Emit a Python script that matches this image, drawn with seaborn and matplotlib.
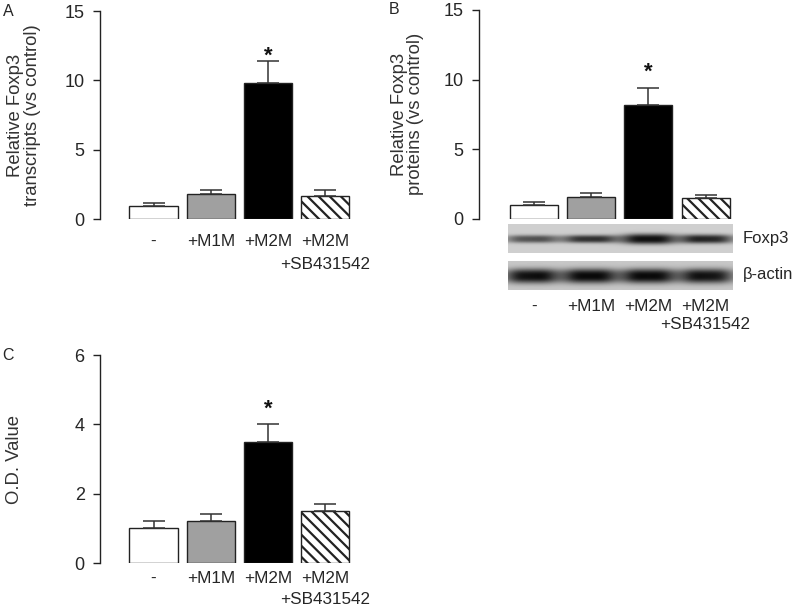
import numpy as np
import pandas as pd
import matplotlib
matplotlib.use('Agg')
import matplotlib.pyplot as plt
import seaborn as sns

# data
groups = ['-', '+M1M', '+M2M', '+M2M\n+SB431542']
transcripts_mean = [1.0, 1.8, 9.8, 1.7]
transcripts_err = [0.2, 0.3, 1.6, 0.4]
proteins_mean = [1.0, 1.55, 8.2, 1.48]
proteins_err = [0.22, 0.27, 1.18, 0.2]
od_mean = [1.0, 1.2, 3.5, 1.5]
od_err = [0.2, 0.2, 0.5, 0.2]
star_group = 2  # +M2M is the significant one

# western blot band darkness per lane (0 = none, 1 = black)
foxp3_band = [0.58, 0.72, 0.88, 0.80]
foxp3_thick = [3.0, 3.0, 4.0, 3.4]
actin_band = [0.90, 0.90, 0.90, 0.88]
actin_thick = [5.5, 5.5, 5.5, 5.5]

bar_colors = {'-': 'white', '+M1M': '#a0a0a0', '+M2M': 'black',
              '+M2M\n+SB431542': 'white'}

sns.set_style('white')
plt.rcParams['font.family'] = ['Liberation Sans', 'DejaVu Sans']
plt.rcParams['hatch.linewidth'] = 1.6
plt.rcParams['hatch.color'] = 'black'

fig = plt.figure(figsize=(8, 6.13), dpi=100)
W, H = 800, 613
UNIT = 57.2  # px between bar centres
FS = 12.3


def px_rect(left, top, width, bottom):
    return [left / W, 1 - bottom / H, width / W, (bottom - top) / H]


def two_line_labels(ax, pad, second_offset):
    # first line as tick label, second line (if any) written underneath
    ax.set_xticks(range(len(groups)))
    ax.set_xticklabels([g.split('\n')[0] for g in groups])
    ax.tick_params(axis='x', length=0, labelsize=FS, pad=pad)
    for i, g in enumerate(groups):
        if '\n' in g:
            ax.annotate(g.split('\n')[1], xy=(i, 0),
                        xycoords=('data', 'axes fraction'),
                        xytext=(0, -second_offset), textcoords='offset points',
                        ha='center', va='center', fontsize=FS)


def draw_panel(rect, first_center, means, errs, ymax, yticks, ylabel, label_x,
               star_y, label_pads=None):
    ax = fig.add_axes(rect)
    df = pd.DataFrame({'group': groups, 'value': means})
    sns.barplot(data=df, x='group', y='value', hue='group', order=groups,
                hue_order=groups, palette=bar_colors, width=0.84,
                edgecolor='#222222', linewidth=1, saturation=1,
                legend=False, ax=ax)
    ax.patches[3].set_hatch('\\\\\\')
    ax.errorbar(range(len(groups)), means, yerr=[np.zeros(len(means)), errs],
                fmt='none', ecolor='#333333', elinewidth=1.1, capsize=8,
                capthick=1.1, zorder=5)
    ax.text(star_group, star_y, '*', ha='center', va='center', fontsize=16,
            fontweight='bold', color='#111111')
    left = -first_center / UNIT
    ax.set_xlim(left, left + 260 / UNIT)
    ax.set_ylim(0, ymax)
    ax.set_yticks(yticks)
    sns.despine(ax=ax, bottom=True)
    ax.spines['left'].set_color('#222222')
    ax.spines['left'].set_linewidth(1)
    ax.tick_params(axis='y', direction='out', length=5, width=1,
                   color='#222222', labelsize=13, pad=6, left=True)
    if label_pads:
        two_line_labels(ax, *label_pads)
    else:
        ax.set_xticks([])
    ax.set_xlabel('')
    ax.set_ylabel(ylabel, fontsize=13.3, color='#333333', linespacing=0.98)
    ax.yaxis.set_label_coords(label_x, 0.5)
    return ax


axA = draw_panel(px_rect(100, 11, 260, 219.5), 53.5, transcripts_mean,
                 transcripts_err, 15, [0, 5, 10, 15],
                 'Relative Foxp3\ntranscripts (vs control)', -0.227, 11.75,
                 label_pads=(10.5, 32.4))
axB = draw_panel(px_rect(479, 10, 260, 218.5), 55, proteins_mean,
                 proteins_err, 15, [0, 5, 10, 15],
                 'Relative Foxp3\nproteins (vs control)', -0.21, 10.5)
axC = draw_panel(px_rect(100, 355, 260, 563), 53.5, od_mean, od_err, 6,
                 [0, 2, 4, 6], 'O.D. Value', -0.295, 4.43,
                 label_pads=(6.0, 26.5))


# western blot strips under panel B
def blot_strip(darkness, thick, bg, width=225, height=29):
    xs = np.arange(width)[None, :]
    ys = np.arange(height)[:, None]
    img = np.full((height, width), bg)
    for i, (d, s) in enumerate(zip(darkness, thick)):
        c = 23 + 58.5 * i
        prof_x = 1 / (1 + ((xs - c) / 24.0) ** 4)
        prof_y = np.exp(-0.5 * np.abs((ys - height / 2) / s) ** 2.6)
        img = img - d * bg * prof_x * prof_y
    return np.clip(img, 0, 1)


axBlot = fig.add_axes([479 / W, 1 - 290 / H, 260 / W, 66 / H])
left = -55 / UNIT
x0 = (508 - 534) / UNIT
x1 = (733 - 534) / UNIT
axBlot.imshow(blot_strip(foxp3_band, foxp3_thick, 0.81),
              extent=(x0, x1, 29, 0), aspect='auto', cmap='gray',
              vmin=0, vmax=1, interpolation='bilinear')
axBlot.imshow(blot_strip(actin_band, actin_thick, 0.78),
              extent=(x0, x1, 66, 37), aspect='auto', cmap='gray',
              vmin=0, vmax=1, interpolation='bilinear')
axBlot.set_xlim(left, left + 260 / UNIT)
axBlot.set_ylim(66, 0)
for s in axBlot.spines.values():
    s.set_visible(False)
axBlot.set_yticks([])
two_line_labels(axBlot, 6.5, 25)
axBlot.text(x1 + 0.17, 15, 'Foxp3', ha='left', va='center', fontsize=12)
axBlot.text(x1 + 0.17, 51, 'β-actin', ha='left', va='center', fontsize=12)

# panel letters
fig.text(8 / W, 1 - 11 / H, 'A', ha='center', va='center', fontsize=11.5)
fig.text(394 / W, 1 - 10 / H, 'B', ha='center', va='center', fontsize=11.5)
fig.text(8 / W, 1 - 355 / H, 'C', ha='center', va='center', fontsize=11.5)

fig.savefig('out.png', dpi=100, facecolor='white')
